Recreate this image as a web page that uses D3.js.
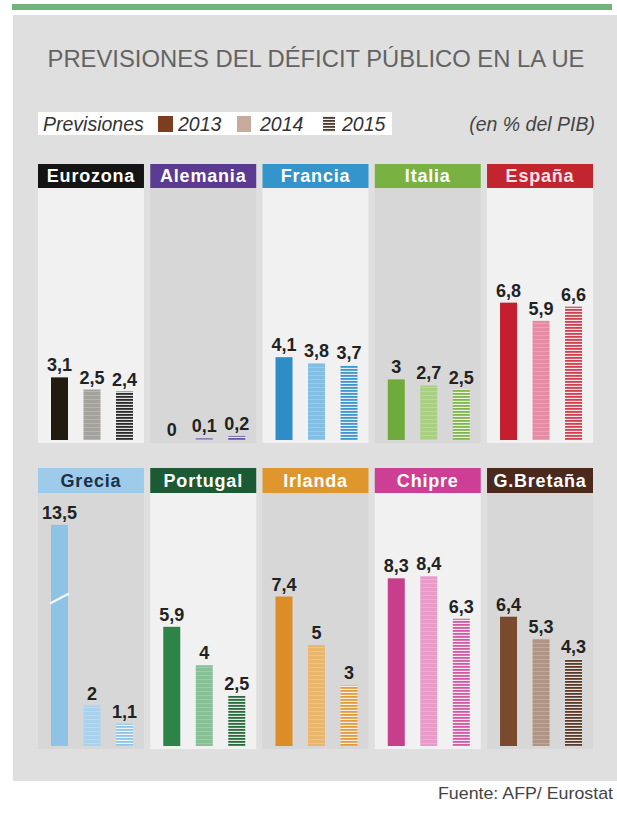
<!DOCTYPE html>
<html><head><meta charset="utf-8">
<script src="https://cdn.jsdelivr.net/npm/d3@7/dist/d3.min.js"></script>
<style>body{margin:0;background:#fff}svg{display:block}</style>
</head><body><svg id="c" width="617" height="814"></svg>
<script>
// ---- data ----
const countries = ["Eurozona","Alemania","Francia","Italia","España","Grecia","Portugal","Irlanda","Chipre","G.Bretaña"];
const years = ["2013","2014","2015"];
const v2013 = [3.1, 0, 4.1, 3, 6.8, 13.5, 5.9, 7.4, 8.3, 6.4];
const v2014 = [2.5, 0.1, 3.8, 2.7, 5.9, 2, 4, 5, 8.4, 5.3];
const v2015 = [2.4, 0.2, 3.7, 2.5, 6.6, 1.1, 2.5, 3, 6.3, 4.3];
const title = "PREVISIONES DEL DÉFICIT PÚBLICO EN LA UE";
const legendLabel = "Previsiones";
const unitNote = "(en % del PIB)";
const source = "Fuente: AFP/ Eurostat";

// ---- styles ----
const headerColor = ["#141414","#5b3a91","#3495cc","#79b243","#c3252f","#9ecbea","#1c5a33","#df962c","#cd3f95","#4b2a1d"];
const headerText  = ["#fff","#fff","#fff","#fff","#fbe3e6","#1d3049","#fff","#fff","#fff","#fff"];
const col2013 = ["#231b10","#5a3b8f","#2e8dc6","#6eaa3c","#c41f2e","#8ec3e6","#2e8446","#dd8d27","#c73e8c","#7a4a2f"];
const col2014 = ["#a3a29c","#8f7fc0","#82bfe2","#a9cf83","#e58ba5","#a9d2ee","#88c096","#e8b66c","#e89bc9","#b09584"];
const col2015 = ["#2a2a2a","#6a55a8","#3f95cc","#7fb44e","#d0404f","#8fc3e6","#2b6a3c","#e19a3c","#d25aa0","#5a3a2a"];
const bodyLight = [true,false,true,false,true,false,true,false,true,false];
const FONT = "'Liberation Sans', Arial, sans-serif";

const svg = d3.select("#c");
const defs = svg.append("defs");

// background
svg.append("rect").attr("x",12).attr("y",4).attr("width",600).attr("height",6).attr("fill","#72b57c");
svg.append("rect").attr("x",13).attr("y",15).attr("width",604).attr("height",766).attr("fill","#dfdfdf");

// title
svg.append("text").attr("x",316).attr("y",67).attr("text-anchor","middle")
  .attr("font-family",FONT).attr("font-size",23.8).attr("fill","#636363").text(title);

// patterns
function stripePattern(id, color, light, period, colH){
  const p = defs.append("pattern").attr("id",id).attr("patternUnits","userSpaceOnUse")
    .attr("width",4).attr("height",period);
  p.append("rect").attr("width",4).attr("height",period).attr("fill",light);
  p.append("rect").attr("width",4).attr("height",colH).attr("fill",color);
}
countries.forEach((c,i)=>{
  stripePattern("p14_"+i, col2014[i], d3.interpolateRgb(col2014[i],"#fff")(0.25), 4, 3.2);
  stripePattern("p15_"+i, col2015[i], d3.interpolateRgb(col2015[i],"#fff")(0.85), 3, 1.8);
});
stripePattern("pleg15","#4a3a30","#f2eeea",3,1.8);

// legend
const lg = svg.append("g");
lg.append("rect").attr("x",38).attr("y",112).attr("width",354).attr("height",23).attr("fill","#fff");
lg.append("text").attr("x",43).attr("y",131).attr("font-family",FONT).attr("font-style","italic")
  .attr("font-size",19.5).attr("fill","#333").text(legendLabel);
const legSq = [{x:158,w:15,f:"#7c3e1e"},{x:237,w:14,f:"#c6aa9b"},{x:323,w:12,f:"url(#pleg15)"}];
const legTx = [178,260,342];
years.forEach((y,k)=>{
  lg.append("rect").attr("x",legSq[k].x).attr("y",116).attr("width",legSq[k].w).attr("height",16).attr("fill",legSq[k].f);
  lg.append("text").attr("x",legTx[k]).attr("y",131).attr("font-family",FONT).attr("font-style","italic")
    .attr("font-size",19.5).attr("fill","#333").text(y);
});
svg.append("text").attr("x",595).attr("y",131).attr("text-anchor","end").attr("font-family",FONT)
  .attr("font-style","italic").attr("font-size",19.5).attr("fill","#444").text(unitNote);

// layout scales
const colX = d3.scaleBand().domain(d3.range(5)).range([38,593]).paddingInner(0.056);
const barX = d3.scaleBand().domain(years).range([13,95]).paddingInner(0.477);
const yH = d3.scaleLinear().domain([0,1]).range([0,20.2]);
const maxShown = 10.95;
const rowTop = [164,468], headH = [24,25], baseY = [440,746], bodyBot = [443,749];
const fmt = v => String(v).replace(".",",");

countries.forEach((c,i)=>{
  const r = Math.floor(i/5), cl = i%5;
  const x0 = colX(cl), w = colX.bandwidth();
  const g = svg.append("g").attr("transform",`translate(${x0},0)`);
  g.append("rect").attr("x",0).attr("y",rowTop[r]+headH[r]).attr("width",w)
    .attr("height",bodyBot[r]-rowTop[r]-headH[r]).attr("fill",bodyLight[i]?"#f1f1f1":"#d7d7d7");
  g.append("rect").attr("x",0).attr("y",rowTop[r]).attr("width",w).attr("height",headH[r]).attr("fill",headerColor[i]);
  g.append("text").attr("x",w/2).attr("y",rowTop[r]+headH[r]-6).attr("text-anchor","middle")
    .attr("font-family",FONT).attr("font-weight","bold").attr("font-size",18).attr("letter-spacing",0.8)
    .attr("fill",headerText[i]).text(c);
  const vals = [v2013[i],v2014[i],v2015[i]];
  const fills = [col2013[i],"url(#p14_"+i+")","url(#p15_"+i+")"];
  years.forEach((yr,k)=>{
    const v = vals[k];
    const shown = Math.min(v,maxShown);
    const h = yH(shown);
    const bx = barX(yr), bw = barX.bandwidth();
    if (h>0) g.append("rect").attr("x",bx).attr("y",baseY[r]-h).attr("width",bw).attr("height",h).attr("fill",fills[k]);
    if (v>maxShown){
      const my = baseY[r]-yH(7.3);
      g.append("line").attr("x1",bx-1).attr("y1",my+5).attr("x2",bx+bw+1).attr("y2",my-5)
        .attr("stroke","#f4f8fb").attr("stroke-width",2.2);
    }
    g.append("text").attr("x",bx+bw/2).attr("y",baseY[r]-h-(h>0?6:4)).attr("text-anchor","middle")
      .attr("font-family",FONT).attr("font-weight","bold").attr("font-size",18).attr("fill","#222").text(fmt(v));
  });
});

// source
svg.append("text").attr("x",613).attr("y",799).attr("text-anchor","end").attr("textLength",175)
  .attr("lengthAdjust","spacingAndGlyphs").attr("font-family",FONT).attr("font-size",17).attr("fill","#444").text(source);
</script></body></html>
